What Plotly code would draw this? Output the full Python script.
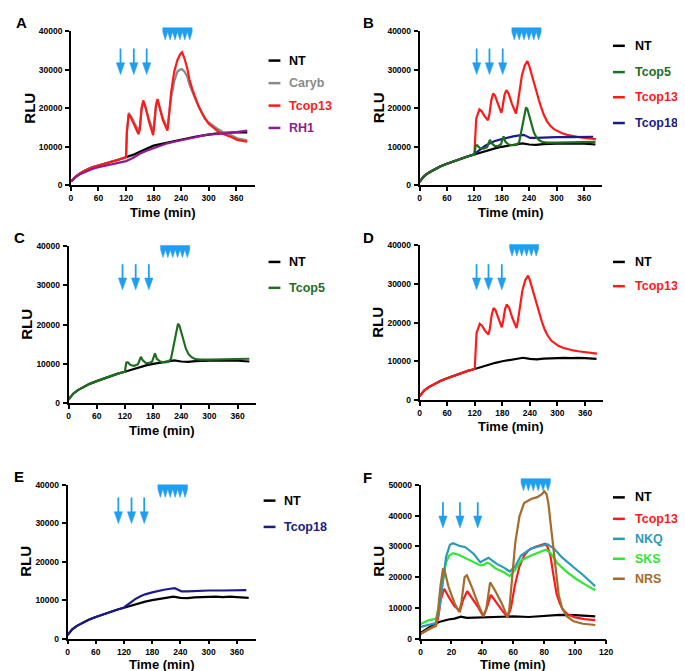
import plotly.graph_objects as go

W, H = 685, 671
FONT = "Liberation Sans, Arial, Helvetica, sans-serif"

# ---------------- data ----------------
# Panel A
tA = [0, 5, 10, 20, 30, 45, 60, 75, 90, 105, 120, 135, 150, 165, 180, 195, 210, 225, 240, 255, 270, 285, 300, 315, 330, 345, 360, 375, 384]
ntA = [1000, 1700, 2200, 3100, 3800, 4600, 5200, 5700, 6200, 6700, 7200, 7900, 8700, 9500, 10300, 10700, 11100, 11600, 12000, 12300, 12600, 12900, 13200, 13400, 13600, 13700, 13800, 13800, 13700]
rh1A = [1000, 1600, 2100, 2900, 3500, 4200, 4700, 5100, 5500, 5900, 6300, 7100, 8200, 9000, 9700, 10300, 10900, 11300, 11700, 12100, 12500, 12900, 13200, 13300, 13400, 13600, 13800, 14000, 14200]
tA_resp = [0, 5, 10, 20, 30, 45, 60, 75, 90, 105, 120, 122, 126, 130, 138, 147, 150, 154, 157.5, 162, 170, 179, 181, 185, 188.5, 193, 200, 210, 212, 218, 225, 232, 238, 242, 247, 253, 258, 264, 270, 278, 285, 292, 300, 310, 320, 330, 340, 350, 362, 372, 384]
tcop13A = [1000, 1700, 2200, 3100, 3800, 4600, 5200, 5700, 6200, 6700, 7300, 14000, 18500, 17800, 15500, 13300, 14500, 20000, 22000, 20500, 16500, 13000, 15000, 20500, 22400, 20500, 17000, 14200, 16000, 24000, 29500, 32500, 34000, 34500, 33000, 30500, 27500, 25000, 23000, 20500, 18800, 17300, 16000, 14900, 14000, 13400, 13000, 12500, 11800, 11500, 11300]
carybA = [1000, 1700, 2200, 3100, 3800, 4600, 5200, 5700, 6200, 6700, 7300, 14000, 18800, 18000, 16200, 14300, 15200, 20000, 21500, 20300, 17200, 14000, 15500, 20500, 22200, 20300, 17500, 14800, 16500, 22500, 27000, 29500, 30000, 30100, 29500, 28300, 26200, 24200, 22600, 20500, 18800, 17300, 16300, 15400, 14600, 13900, 13300, 12900, 12200, 11900, 11700]

# Panels B-E (shared curves)
tNT = [0, 5, 10, 20, 30, 45, 60, 75, 90, 105, 120, 135, 150, 165, 180, 195, 210, 225, 240, 255, 270, 285, 300, 315, 330, 345, 360, 375, 385]
nt = [900, 1700, 2400, 3300, 4000, 4900, 5600, 6300, 6900, 7500, 8000, 8600, 9100, 9600, 10000, 10300, 10500, 10900, 10600, 10500, 10700, 10800, 10800, 10900, 10800, 10900, 10800, 10700, 10600]
t13 = [0, 5, 10, 20, 30, 45, 60, 75, 90, 105, 120, 122, 124, 131, 136, 142, 150, 153, 157, 161, 165, 172, 179, 182, 186, 190, 195, 202, 211, 214, 218, 224, 230, 236, 240, 245, 250, 255, 261, 266, 272, 279, 287, 295, 302, 312, 323, 334, 345, 356, 367, 378, 386]
tcop13 = [900, 1700, 2400, 3300, 4000, 4900, 5600, 6300, 6900, 7500, 8000, 12000, 17300, 19700, 19200, 18000, 16900, 18500, 22000, 23800, 23300, 21000, 18800, 20500, 23500, 24700, 23800, 21200, 18600, 20500, 24000, 28500, 31000, 32200, 31000, 28800, 27000, 24500, 22200, 20300, 18300, 16600, 15300, 14500, 14000, 13500, 13100, 12800, 12600, 12400, 12300, 12100, 12000]
t5 = [0, 5, 10, 20, 30, 45, 60, 75, 90, 105, 120, 123, 126, 132, 140, 148, 154, 158, 165, 172, 178, 184, 188, 195, 205, 212, 218, 224, 229, 233, 236, 240, 245, 250, 256, 262, 270, 280, 300, 330, 360, 385]
tcop5 = [900, 1700, 2400, 3300, 4000, 4900, 5600, 6300, 6900, 7500, 8000, 10300, 10400, 9700, 9500, 9900, 11800, 10900, 10200, 10200, 10600, 12700, 11300, 10600, 10400, 10500, 11200, 14500, 18000, 20200, 19800, 18000, 15500, 13800, 12400, 11700, 11200, 11100, 11100, 11200, 11300, 11300]
t18 = [0, 5, 10, 20, 30, 45, 60, 75, 90, 105, 120, 130, 143, 155, 165, 180, 192, 205, 215, 222, 228, 235, 242, 255, 270, 300, 330, 360, 380]
tcop18 = [900, 1700, 2400, 3300, 4000, 4900, 5600, 6300, 6900, 7500, 8100, 9000, 10200, 11000, 11500, 12000, 12400, 12700, 12900, 13000, 13100, 12700, 12300, 12300, 12400, 12500, 12500, 12600, 12600]

# Panel F
tF_nt = [0, 3, 6, 9, 12, 15, 18, 22, 26, 30, 40, 50, 60, 70, 80, 90, 100, 113]
ntF = [1800, 2800, 3800, 4700, 5400, 5900, 6200, 6500, 7100, 6700, 6900, 7000, 7200, 7000, 7300, 7700, 7600, 7200]
tF_13 = [0, 5, 10, 11.5, 13, 15.3, 18.5, 22, 25.5, 27.5, 30.2, 33, 37, 40.5, 42.5, 45.5, 48.5, 52.5, 56.3, 58.5, 61, 64, 67, 70, 74, 78, 80.5, 82, 84, 86, 88, 90, 92, 95, 100, 106, 113]
tcop13F = [1500, 3000, 4200, 7000, 12500, 16200, 13300, 10500, 9000, 12500, 15400, 13500, 10400, 7300, 9500, 14200, 12000, 9300, 6900, 10000, 17300, 23500, 27000, 28800, 29800, 30500, 30800, 30000, 27000, 20500, 14500, 11500, 9500, 7900, 6900, 6300, 6000]
tF_nrs = [0, 5, 10, 11.5, 13, 14.5, 15.5, 18, 22, 25, 26.5, 28.5, 30, 33.5, 37.5, 40.8, 42.5, 45, 48, 52.5, 56.3, 57.5, 59.2, 61.3, 64, 67, 71.5, 75.5, 78.5, 80, 81.5, 82.7, 84, 85.5, 87.3, 89.4, 91.5, 94.7, 99, 105, 113]
nrsF = [1500, 3000, 4300, 10000, 17500, 22500, 22300, 17000, 11500, 8600, 12000, 20000, 20600, 16300, 10900, 7200, 9500, 18300, 15800, 11500, 6900, 9900, 20600, 31300, 39800, 44100, 45400, 46000, 47000, 47900, 47000, 44000, 38000, 31300, 21600, 14100, 9900, 7200, 5600, 4800, 4400]
tF_nkq = [0, 5, 10, 12, 14, 16.5, 19, 21, 25, 29, 34.5, 38.7, 41, 44, 46, 49.3, 54.5, 57.7, 61, 65, 71.5, 78, 82, 86.3, 91.5, 99, 105.3, 113]
nkqF = [3800, 4500, 5000, 9000, 17500, 26500, 30500, 31000, 30200, 29700, 27500, 24800, 25500, 26300, 25500, 24300, 22900, 21800, 23300, 27000, 29300, 30200, 30700, 29300, 26400, 23200, 20600, 17000]
tF_sks = [0, 5, 10, 12, 14, 16.5, 18.6, 21, 25, 29.2, 34.5, 38.7, 41, 43, 45, 48.2, 54.5, 57.7, 61, 65.1, 71.5, 77.8, 81, 84.1, 88.4, 94.7, 101, 107.4, 113]
sksF = [4700, 5900, 6400, 10500, 17300, 24800, 27000, 27800, 27200, 26200, 25000, 23800, 24000, 24700, 24300, 22900, 21400, 20300, 22200, 25400, 27000, 28300, 28900, 27800, 24600, 21600, 19300, 17300, 15700]

# stimulus markers (time of additions) per panel
arrowsA = [108, 137, 165]; combA = [200, 264]
arrowsB = [125, 153, 182]; combB = [202, 266]
arrowsC = [115, 143, 171]; combC = [196, 258]
arrowsD = [124, 150, 179]; combD = [196, 259]
arrowsE = [108, 136, 163]; combE = [192, 255]
arrowsF = [14.5, 25.5, 37]; combF = [65, 84]

xticksMin = [0, 60, 120, 180, 240, 300, 360]
xticksF = [0, 20, 40, 60, 80, 100, 120]
yticks4 = [0, 10000, 20000, 30000, 40000]
yticks5 = [0, 10000, 20000, 30000, 40000, 50000]

C_NT = "#000000"; C_CARYB = "#8a8a8a"; C_T13 = "#ff1a1a"; C_RH1 = "#8e1c8e"
C_T5 = "#1f6e1f"; C_T18 = "#1a1a8c"; C_NKQ = "#2a9ab8"; C_SKS = "#33e633"; C_NRS = "#a66a2a"
BLUE = "#1e9ff0"

# ---------------- layout geometry (pixels) ----------------
panels = [
    dict(letter="A", ax="", x0=61.7, x1=247.9, yb=175, yt=18.3, xmax=400, ymax=40000, xt=xticksMin, yt_vals=yticks4,
         arrows=arrowsA, comb=combA, ar=(35480, 28720), cb=(40850, 37700), tdy=27.5,
         series=[(tA, ntA, C_NT), (tA_resp, carybA, C_CARYB), (tA_resp, tcop13A, C_T13), (tA, rh1A, C_RH1)],
         legend=[("NT", C_NT), ("Caryb", C_CARYB), ("Tcop13", C_T13), ("RH1", C_RH1)],
         leg_x=(262, 274, 282), leg_y=[48.3, 71.2, 94, 116.7], letter_xy=(4, 10)),
    dict(letter="B", ax="2", x0=415, x1=600.2, yb=175, yt=18.3, xmax=400, ymax=40000, xt=xticksMin, yt_vals=yticks4,
         arrows=arrowsB, comb=combB, ar=(35480, 28720), cb=(40850, 37700), tdy=27.5,
         series=[(tNT, nt, C_NT), (t13, tcop13, C_T13), (t18, tcop18, C_T18), (t5, tcop5, C_T5)],
         legend=[("NT", C_NT), ("Tcop5", C_T5), ("Tcop13", C_T13), ("Tcop18", C_T18)],
         leg_x=(611, 623, 632), leg_y=[33.3, 60, 85.5, 111.7], letter_xy=(356, 10)),
    dict(letter="C", ax="3", x0=59.3, x1=249.7, yb=396, yt=236.7, xmax=400, ymax=40000, xt=xticksMin, yt_vals=yticks4,
         arrows=arrowsC, comb=combC, ar=(35400, 28870), cb=(40170, 37090), tdy=27.5,
         series=[(tNT, nt, C_NT), (t5, tcop5, C_T5)],
         legend=[("NT", C_NT), ("Tcop5", C_T5)],
         leg_x=(262, 274, 282), leg_y=[252.7, 279], letter_xy=(2, 228)),
    dict(letter="D", ax="4", x0=415, x1=601.3, yb=392.7, yt=236, xmax=400, ymax=40000, xt=xticksMin, yt_vals=yticks4,
         arrows=arrowsD, comb=combD, ar=(35150, 28520), cb=(40250, 37270), tdy=27.5,
         series=[(tNT, nt, C_NT), (t13, tcop13, C_T13)],
         legend=[("NT", C_NT), ("Tcop13", C_T13)],
         leg_x=(611, 623, 632), leg_y=[252.7, 277.3], letter_xy=(356, 228)),
    dict(letter="E", ax="5", x0=58.3, x1=249, yb=635, yt=479, xmax=400, ymax=40000, xt=xticksMin, yt_vals=yticks4,
         arrows=arrowsE, comb=combE, ar=(36740, 29920), cb=(40000, 36740), tdy=26.5,
         series=[(tNT, nt, C_NT), (t18, tcop18, C_T18)],
         legend=[("NT", C_NT), ("Tcop18", C_T18)],
         leg_x=(257, 269, 277), leg_y=[495, 521.7], letter_xy=(2, 471)),
    dict(letter="F", ax="6", x0=416, x1=604, yb=635, yt=479, xmax=120, ymax=50000, xt=xticksF, yt_vals=yticks5,
         arrows=arrowsF, comb=combF, ar=(44330, 36000), cb=(52000, 48080), tdy=26.5,
         series=[(tF_nt, ntF, C_NT), (tF_13, tcop13F, C_T13), (tF_sks, sksF, C_SKS), (tF_nkq, nkqF, C_NKQ), (tF_nrs, nrsF, C_NRS)],
         legend=[("NT", C_NT), ("Tcop13", C_T13), ("NKQ", C_NKQ), ("SKS", C_SKS), ("NRS", C_NRS)],
         leg_x=(611, 623, 632), leg_y=[491.7, 513.5, 533.8, 554, 574.3], letter_xy=(356, 472)),
]

fig = go.Figure()
shapes, annotations = [], []


def pap(px, py):
    return px / W, 1 - py / H


def d2px(p, t, v):
    return (p["x0"] + t / p["xmax"] * (p["x1"] - p["x0"]),
            p["yb"] - v / p["ymax"] * (p["yb"] - p["yt"]))


axis_common = dict(showline=True, linecolor="black", linewidth=1.6, ticks="outside", ticklen=4,
                   tickwidth=1.5, tickcolor="black", showgrid=False, zeroline=False,
                   tickfont=dict(family=FONT, size=8.5, color="black", weight="bold"), fixedrange=True)

layout_axes = {}
for p in panels:
    a = p["ax"]
    xa, ya = "x" + a, "y" + a
    xd = [p["x0"] / W, p["x1"] / W]
    yd = [1 - p["yb"] / H, 1 - p["yt"] / H]
    layout_axes["xaxis" + a] = dict(axis_common, domain=xd, range=[0, p["xmax"]], tickvals=p["xt"],
                                    anchor=ya, ticklabelstandoff=0)
    layout_axes["yaxis" + a] = dict(axis_common, domain=yd, range=[0, p["ymax"]], tickvals=p["yt_vals"],
                                    tickformat="d", anchor=xa, ticklabelstandoff=1)
    for (tx, vy, col) in p["series"]:
        fig.add_trace(go.Scatter(x=tx, y=vy, mode="lines", line=dict(color=col, width=2.2),
                                 xaxis=xa, yaxis=ya, showlegend=False, hoverinfo="skip"))

    # arrows
    top_v, tip_v = p["ar"]
    for t in p["arrows"]:
        x, ytop = d2px(p, t, top_v)
        _, ytip = d2px(p, t, tip_v)
        hh, hw = 12, 4.2
        a0 = pap(x, ytop); a1 = pap(x, ytip - hh + 1)
        shapes.append(dict(type="line", xref="paper", yref="paper", x0=a0[0], y0=a0[1], x1=a1[0], y1=a1[1],
                           line=dict(color=BLUE, width=1.8)))
        pts = [pap(x - hw, ytip - hh), pap(x + hw, ytip - hh), pap(x, ytip)]
        path = "M {:.5f},{:.5f} L {:.5f},{:.5f} L {:.5f},{:.5f} Z".format(*pts[0], *pts[1], *pts[2])
        shapes.append(dict(type="path", xref="paper", yref="paper", path=path, fillcolor=BLUE,
                           line=dict(color=BLUE, width=0.5)))
    # comb of six triangles
    cs, ce = p["comb"]
    ctop, cbot = p["cb"]
    xs, yT = d2px(p, cs, ctop)
    xe, yB = d2px(p, ce, cbot)
    bar = (yB - yT) * 0.35
    n = 6
    w = (xe - xs) / n
    pts = [pap(xs, yT), pap(xe, yT), pap(xe, yT + bar)]
    for i in range(n - 1, -1, -1):
        pts.append(pap(xs + (i + 0.5) * w, yB))
        pts.append(pap(xs + i * w, yT + bar))
    path = "M " + " L ".join("{:.5f},{:.5f}".format(*q) for q in pts) + " Z"
    shapes.append(dict(type="path", xref="paper", yref="paper", path=path, fillcolor=BLUE,
                       line=dict(color=BLUE, width=0.5)))

    # panel letter
    lx, ly = pap(*p["letter_xy"])
    annotations.append(dict(text="<b>" + p["letter"] + "</b>", x=lx, y=ly, xref="paper", yref="paper",
                            xanchor="left", yanchor="middle", showarrow=False,
                            font=dict(family=FONT, size=15, color="black")))
    # axis titles
    cx, cy = pap((p["x0"] + p["x1"]) / 2, p["yb"] + p["tdy"])
    annotations.append(dict(text="<b>Time (min)</b>", x=cx, y=cy, xref="paper", yref="paper",
                            xanchor="center", yanchor="middle", showarrow=False, borderpad=0,
                            font=dict(family=FONT, size=13, color="black")))
    rx, ry = pap(p["x0"] - 42, (p["yb"] + p["yt"]) / 2)
    annotations.append(dict(text="<b>RLU</b>", x=rx, y=ry, xref="paper", yref="paper", textangle=-90,
                            xanchor="center", yanchor="middle", showarrow=False,
                            font=dict(family=FONT, size=15, color="black")))
    # legend
    l0, l1, lt = p["leg_x"]
    for (name, col), yy in zip(p["legend"], p["leg_y"]):
        s0 = pap(l0, yy); s1 = pap(l1, yy)
        shapes.append(dict(type="line", xref="paper", yref="paper", x0=s0[0], y0=s0[1], x1=s1[0], y1=s1[1],
                           line=dict(color=col, width=2.5)))
        tx, ty = pap(lt, yy)
        annotations.append(dict(text="<b>" + name + "</b>", x=tx, y=ty, xref="paper", yref="paper",
                                xanchor="left", yanchor="middle", showarrow=False, borderpad=0,
                                font=dict(family=FONT, size=12.5, color=col)))

fig.update_layout(width=W, height=H, autosize=False, margin=dict(l=0, r=0, t=0, b=0),
                  paper_bgcolor="white", plot_bgcolor="white", showlegend=False,
                  shapes=shapes, annotations=annotations, **layout_axes)

fig.write_html("out.html")
